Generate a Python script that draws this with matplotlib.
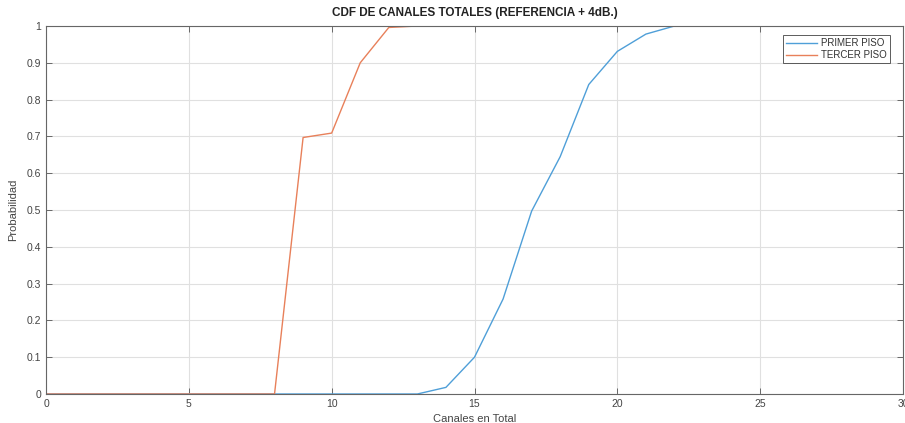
import matplotlib
matplotlib.use("Agg")
import matplotlib.pyplot as plt
import numpy as np

plt.rcParams['font.family'] = ['Liberation Sans', 'DejaVu Sans']

x = list(range(0, 31))
primer_piso = [0]*14 + [0.018, 0.10, 0.258, 0.497, 0.645, 0.841, 0.931, 0.978, 1.0] + [1.0]*8
tercer_piso = [0]*9 + [0.697, 0.709, 0.900, 0.996, 1.0] + [1.0]*17
primer_piso = primer_piso[:31]
x_ticks = [0, 5, 10, 15, 20, 25, 30]
y_ticks = [0, 0.1, 0.2, 0.3, 0.4, 0.5, 0.6, 0.7, 0.8, 0.9, 1]
y_labels = ['0', '0.1', '0.2', '0.3', '0.4', '0.5', '0.6', '0.7', '0.8', '0.9', '1']

fig = plt.figure(figsize=(9.05, 4.23), dpi=100)
ax = fig.add_axes([46/905, 29/423, (903-46)/905, (394-26)/423])

ax.plot(x, primer_piso, color='#4f9fd8', lw=1.0, label='PRIMER PISO')
ax.plot(x, tercer_piso, color='#e8805a', lw=1.0, label='TERCER PISO')

ax.set_xlim(0, 30)
ax.set_ylim(0, 1)
ax.set_xticks(x_ticks)
ax.set_yticks(y_ticks)
ax.set_yticklabels(y_labels)
ax.grid(True, color='#e0e0e0', lw=0.8)
ax.set_axisbelow(True)
ax.tick_params(direction='in', top=True, right=True, labelsize=7.5, colors='#555555',
               length=4, width=0.6, labelcolor='#444444')
for s in ax.spines.values():
    s.set_color('#666666')
    s.set_linewidth(0.8)

ax.set_title('CDF DE CANALES TOTALES (REFERENCIA + 4dB.)', fontsize=8.5, fontweight='bold',
             color='#222222', pad=7)
ax.set_xlabel('Canales en Total', fontsize=8, color='#444444', labelpad=4)
ax.set_ylabel('Probabilidad', fontsize=8, color='#444444', labelpad=6)

leg = ax.legend(loc='upper right', fontsize=7, frameon=True, fancybox=False,
                edgecolor='#333333', borderpad=0.3, handlelength=3.2, handletextpad=0.5,
                labelspacing=0.2, borderaxespad=0, bbox_to_anchor=(0.985, 0.975))
leg.get_frame().set_linewidth(0.7)
for t in leg.get_texts():
    t.set_color('#333333')

fig.savefig('out.png', dpi=100)
